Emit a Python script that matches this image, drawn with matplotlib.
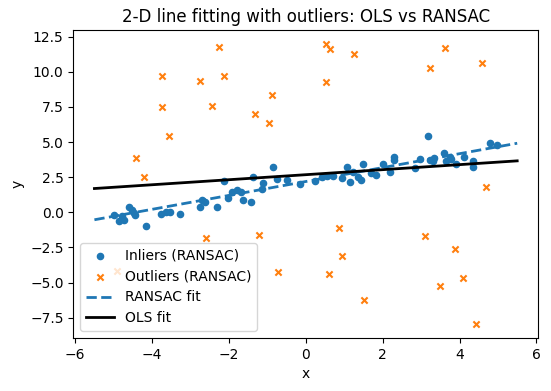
import numpy as np
import matplotlib
matplotlib.use("Agg")
import matplotlib.pyplot as plt

# inliers
x_in = [-5.0, -4.85, -4.74, -4.77, -4.61, -4.52, -4.48, -4.44, -4.16, -3.78, -3.64, -3.53,
        -3.27, -2.75, -2.71, -2.61, -2.30, -2.13, -2.02, -1.93, -1.80, -1.68, -1.63, -1.43,
        -1.37, -1.15, -1.11, -0.85, -0.76, -0.50, -0.14, 0.23, 0.41, 0.54, 0.71, 0.94,
        1.07, 1.14, 1.23, 1.36, 1.44, 1.50, 1.69, 1.83, 2.02, 2.20, 2.29, 2.29, 2.85,
        2.98, 3.17, 3.22, 3.30, 3.33, 3.59, 3.65, 3.74, 3.78, 3.91, 4.12, 4.34, 4.36,
        4.79, 4.97]
y_in = [-0.18, -0.60, -0.58, -0.30, 0.37, 0.18, -0.06, -0.18, -1.01, -0.11, -0.01, -0.01,
        -0.11, 0.41, 0.89, 0.75, 0.37, 2.21, 1.01, 1.41, 1.55, 1.46, 0.84, 0.72,
        2.54, 1.65, 2.07, 3.23, 2.40, 2.31, 2.01, 2.26, 2.50, 2.59, 2.59, 2.43,
        3.25, 2.12, 2.90, 2.54, 2.31, 3.44, 2.78, 2.66, 3.44, 2.85, 3.92, 3.73, 3.18,
        3.80, 5.43, 3.73, 3.68, 3.89, 4.20, 3.66, 3.92, 3.78, 3.42, 3.96, 3.68, 3.25,
        4.91, 4.79]

# outliers
x_out = [-2.26, -3.75, -2.13, -2.74, -0.88, -2.43, -3.75, -1.32, -0.95, -3.55, -4.43, -4.22,
         0.52, 0.63, 1.25, 3.63, 3.22, 4.59, 0.52, 4.68,
         0.86, 0.94, 0.60, 1.51, 3.09, 3.87, 4.10, 3.48, 4.44,
         -2.59, -1.21, -0.72, -4.91]
y_out = [11.73, 9.69, 9.69, 9.34, 8.34, 7.56, 7.49, 6.99, 6.36, 5.43, 3.85, 2.52,
         11.97, 11.61, 11.24, 11.66, 10.24, 10.60, 9.25, 1.79,
         -1.12, -3.11, -4.39, -6.21, -1.69, -2.61, -4.67, -5.24, -7.94,
         -1.81, -1.62, -4.25, -4.15]

# fitted lines: slope, intercept
ransac_fit = (0.495, 2.19)
ols_fit = (0.179, 2.675)

xs = np.linspace(-5.5, 5.5, 100)

fig, ax = plt.subplots(figsize=(5.51, 3.91), dpi=100)
fig.subplots_adjust(left=0.133, right=0.977, top=0.923, bottom=0.136)

ax.scatter(x_in, y_in, s=20, color="C0", label="Inliers (RANSAC)")
ax.scatter(x_out, y_out, s=20, marker="x", color="C1", label="Outliers (RANSAC)")
ax.plot(xs, ransac_fit[0] * xs + ransac_fit[1], "--", color="C0", lw=2, label="RANSAC fit")
ax.plot(xs, ols_fit[0] * xs + ols_fit[1], color="black", lw=2, label="OLS fit")

ax.set_title("2-D line fitting with outliers: OLS vs RANSAC")
ax.set_xlabel("x")
ax.set_ylabel("y")
ax.legend(loc="lower left")

fig.savefig("out.png", dpi=100)
